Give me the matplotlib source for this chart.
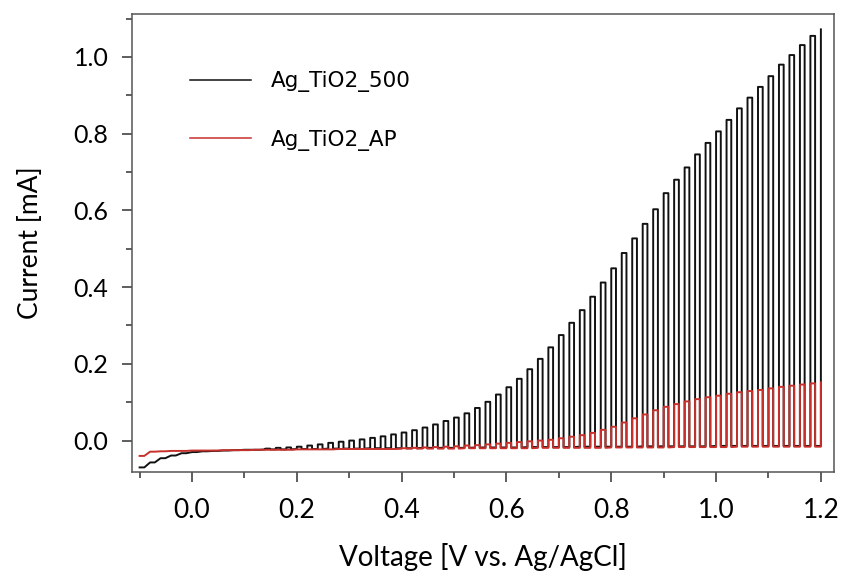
import numpy as np
import matplotlib
matplotlib.use("Agg")
import matplotlib.pyplot as plt
from matplotlib.ticker import MultipleLocator

# Chopped-light LSV data, one light pulse every 0.02 V
volts = np.round(np.arange(-0.10, 1.2001, 0.02), 2)

# Ag_TiO2_500: dark current and photocurrent at each pulse (mA)
dark_500 = [-0.070, -0.057, -0.046, -0.039, -0.033, -0.030, -0.028, -0.027, -0.026, -0.025,
            -0.024, -0.024, -0.023, -0.023, -0.023, -0.022, -0.022, -0.022, -0.021, -0.021,
            -0.021, -0.021, -0.020, -0.020, -0.020, -0.020, -0.020, -0.019, -0.019, -0.019,
            -0.019, -0.019, -0.018, -0.018, -0.018, -0.018, -0.018, -0.017, -0.017, -0.017,
            -0.017, -0.017, -0.016, -0.016, -0.016, -0.016, -0.016, -0.016, -0.015, -0.015,
            -0.015, -0.015, -0.015, -0.015, -0.015, -0.014, -0.014, -0.014, -0.014, -0.014,
            -0.014, -0.014, -0.014, -0.014, -0.014, -0.014]
light_500 = [-0.070, -0.057, -0.046, -0.039, -0.033, -0.030, -0.028, -0.027, -0.026, -0.025,
             -0.024, -0.024, -0.021, -0.019, -0.018, -0.016, -0.013, -0.010, -0.006, -0.003,
             0.000, 0.003, 0.007, 0.011, 0.016, 0.021, 0.027, 0.034, 0.042, 0.051,
             0.060, 0.071, 0.085, 0.101, 0.120, 0.139, 0.161, 0.186, 0.213, 0.243,
             0.275, 0.307, 0.340, 0.375, 0.412, 0.449, 0.489, 0.527, 0.565, 0.603,
             0.645, 0.680, 0.712, 0.746, 0.776, 0.806, 0.836, 0.866, 0.894, 0.922,
             0.950, 0.980, 1.005, 1.031, 1.055, 1.072]

# Ag_TiO2_AP
dark_ap = [-0.040, -0.029, -0.028, -0.027, -0.027, -0.026, -0.026, -0.026, -0.025, -0.025,
           -0.025, -0.024, -0.024, -0.024, -0.024, -0.023, -0.023, -0.023, -0.023, -0.022,
           -0.022, -0.022, -0.022, -0.022, -0.022, -0.021, -0.021, -0.021, -0.021, -0.021,
           -0.021, -0.020, -0.020, -0.020, -0.020, -0.020, -0.020, -0.020, -0.019, -0.019,
           -0.019, -0.019, -0.019, -0.019, -0.019, -0.018, -0.018, -0.018, -0.018, -0.018,
           -0.018, -0.017, -0.017, -0.017, -0.017, -0.017, -0.017, -0.016, -0.016, -0.016,
           -0.016, -0.016, -0.016, -0.016, -0.016, -0.016]
light_ap = [-0.040, -0.029, -0.028, -0.027, -0.027, -0.026, -0.026, -0.026, -0.025, -0.025,
            -0.025, -0.024, -0.024, -0.024, -0.024, -0.023, -0.023, -0.023, -0.023, -0.022,
            -0.022, -0.022, -0.022, -0.022, -0.022, -0.020, -0.019, -0.018, -0.017, -0.016,
            -0.015, -0.013, -0.012, -0.010, -0.008, -0.006, -0.004, -0.002, 0.000, 0.002,
            0.006, 0.010, 0.014, 0.020, 0.028, 0.036, 0.047, 0.058, 0.068, 0.079,
            0.088, 0.095, 0.102, 0.108, 0.113, 0.117, 0.122, 0.126, 0.129, 0.132,
            0.136, 0.140, 0.143, 0.146, 0.149, 0.152]

labels = ["Ag_TiO2_500", "Ag_TiO2_AP"]
colors = ["#111111", "#c8302c"]
on_width = 0.009  # light-on part of each 0.02 V period


def chopped(v, dark, light):
    # turn per-pulse values into a square wave trace
    xs, ys = [], []
    for k in range(len(v)):
        if k == len(v) - 1:
            xs += [v[k], v[k]]
            ys += [dark[k], light[k]]
        else:
            xs += [v[k], v[k], v[k] + on_width, v[k] + on_width]
            ys += [dark[k], light[k], light[k], dark[k]]
    return xs, ys


fig = plt.figure(figsize=(8.43, 5.72), dpi=100)
ax = fig.add_axes([0.1566, 0.1748, 0.8327, 0.8007])

x1, y1 = chopped(volts, dark_500, light_500)
x2, y2 = chopped(volts, dark_ap, light_ap)
ax.plot(x1, y1, color=colors[0], lw=1.4, label=labels[0])
ax.plot(x2, y2, color=colors[1], lw=1.4, label=labels[1])

ax.set_xlim(-0.1145, 1.225)
ax.set_ylim(-0.082, 1.112)

ax.xaxis.set_major_locator(MultipleLocator(0.2))
ax.xaxis.set_minor_locator(MultipleLocator(0.1))
ax.yaxis.set_major_locator(MultipleLocator(0.2))
ax.yaxis.set_minor_locator(MultipleLocator(0.1))
ax.xaxis.set_major_formatter(plt.FormatStrFormatter("%.1f"))
ax.yaxis.set_major_formatter(plt.FormatStrFormatter("%.1f"))

ax.tick_params(which="both", direction="out", top=False, right=False, color="#333333")
ax.tick_params(which="major", length=7, width=1.1)
ax.tick_params(which="minor", length=4.5, width=1.1)
ax.tick_params(axis="y", pad=10)
ax.tick_params(axis="x", pad=12)

for s in ax.spines.values():
    s.set_color("#555555")
    s.set_linewidth(1.1)

for t in ax.get_xticklabels():
    t.set_fontfamily("Lato")
    t.set_fontsize(19)
for t in ax.get_yticklabels():
    t.set_fontfamily("Lato")
    t.set_fontsize(18)

ax.set_xlabel("Voltage [V vs. Ag/AgCl]", fontsize=20, family="Lato", labelpad=14)
ax.set_ylabel("Current [mA]", fontsize=19, family="Lato", labelpad=22)

leg = ax.legend(loc="upper left", bbox_to_anchor=(0.083, 0.875), frameon=False,
                prop={"family": "DejaVu Sans", "size": 15.5}, handlelength=2.8,
                handletextpad=0.95, labelspacing=1.75, borderpad=0, borderaxespad=0)
for line in leg.get_lines():
    line.set_linewidth(1.1)

fig.savefig("out.png", dpi=100)
